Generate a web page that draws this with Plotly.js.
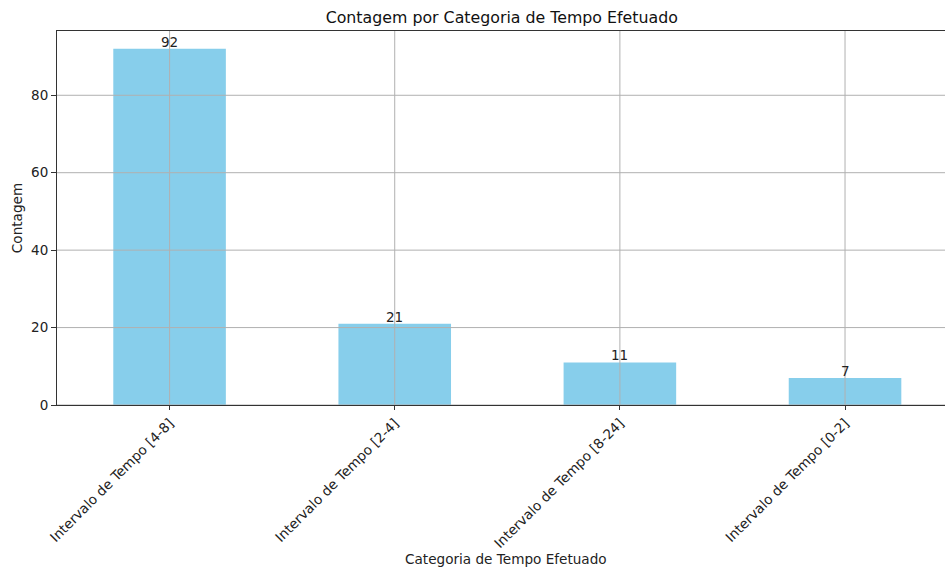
<!DOCTYPE html>
<html>
<head>
<meta charset="utf-8">
<script src="https://cdn.plot.ly/plotly-3.0.1.min.js"></script>
<style>html,body{margin:0;padding:0;background:#fff;}#chart{width:945px;height:570px;}</style>
</head>
<body>
<div id="chart"></div>
<script>
const categories = ["Intervalo de Tempo [4-8]", "Intervalo de Tempo [2-4]", "Intervalo de Tempo [8-24]", "Intervalo de Tempo [0-2]"];
const counts = [92, 21, 11, 7];
const yTicks = [0, 20, 40, 60, 80];

const gridColor = "#b0b0b0";
const shapes = [];
categories.forEach(function (c) {
  shapes.push({type: "line", xref: "x", yref: "paper", x0: c, x1: c, y0: 0, y1: 1,
    line: {color: gridColor, width: 1}, layer: "above"});
});
yTicks.forEach(function (v) {
  shapes.push({type: "line", xref: "paper", yref: "y", x0: 0, x1: 1, y0: v, y1: v,
    line: {color: gridColor, width: 1}, layer: "above"});
});

const annotations = categories.map(function (c, i) {
  return {x: c, y: counts[i], xref: "x", yref: "y", text: String(counts[i]),
    showarrow: false, yanchor: "bottom", xanchor: "center", yshift: -3,
    font: {family: "DejaVu Sans", size: 13.5, color: "#222"}};
});
annotations.push({text: "Categoria de Tempo Efetuado", xref: "paper", yref: "paper",
  x: 0.5056, y: -0.412, xanchor: "center", yanchor: "middle", showarrow: false,
  font: {family: "DejaVu Sans", size: 13.6, color: "#222"}});

const trace = {
  type: "bar",
  x: categories,
  y: counts,
  width: 0.5,
  marker: {color: "#87CEEB"},
  hoverinfo: "x+y"
};

const layout = {
  width: 945, height: 570,
  margin: {l: 57, r: 0, t: 31, b: 165},
  paper_bgcolor: "#fff", plot_bgcolor: "#fff",
  font: {family: "DejaVu Sans", size: 13, color: "#222"},
  title: {text: "Contagem por Categoria de Tempo Efetuado", font: {size: 15.8, color: "#111"}, x: 0.531, xanchor: "center", y: 0.97, yanchor: "middle"},
  showlegend: false,
  shapes: shapes,
  annotations: annotations,
  xaxis: {
    type: "category",
    range: [-0.5, 3.444],
    showgrid: false,
    showline: true, mirror: true, linecolor: "#333", linewidth: 1,
    ticks: "outside", ticklen: 4, tickcolor: "#333",
    tickangle: -45,
    tickfont: {size: 13.6, color: "#222"},
    zeroline: false, fixedrange: true
  },
  yaxis: {
    range: [0, 96.6],
    tickvals: yTicks,
    showgrid: false,
    showline: true, linecolor: "#333", linewidth: 1,
    ticks: "outside", ticklen: 5, tickcolor: "#333",
    tickfont: {size: 13.5, color: "#222"},
    title: {text: "Contagem", font: {size: 13.6, color: "#222"}, standoff: 5},
    zeroline: false, fixedrange: true
  }
};

Plotly.newPlot("chart", [trace], layout, {displayModeBar: false, staticPlot: true});
</script>
</body>
</html>
